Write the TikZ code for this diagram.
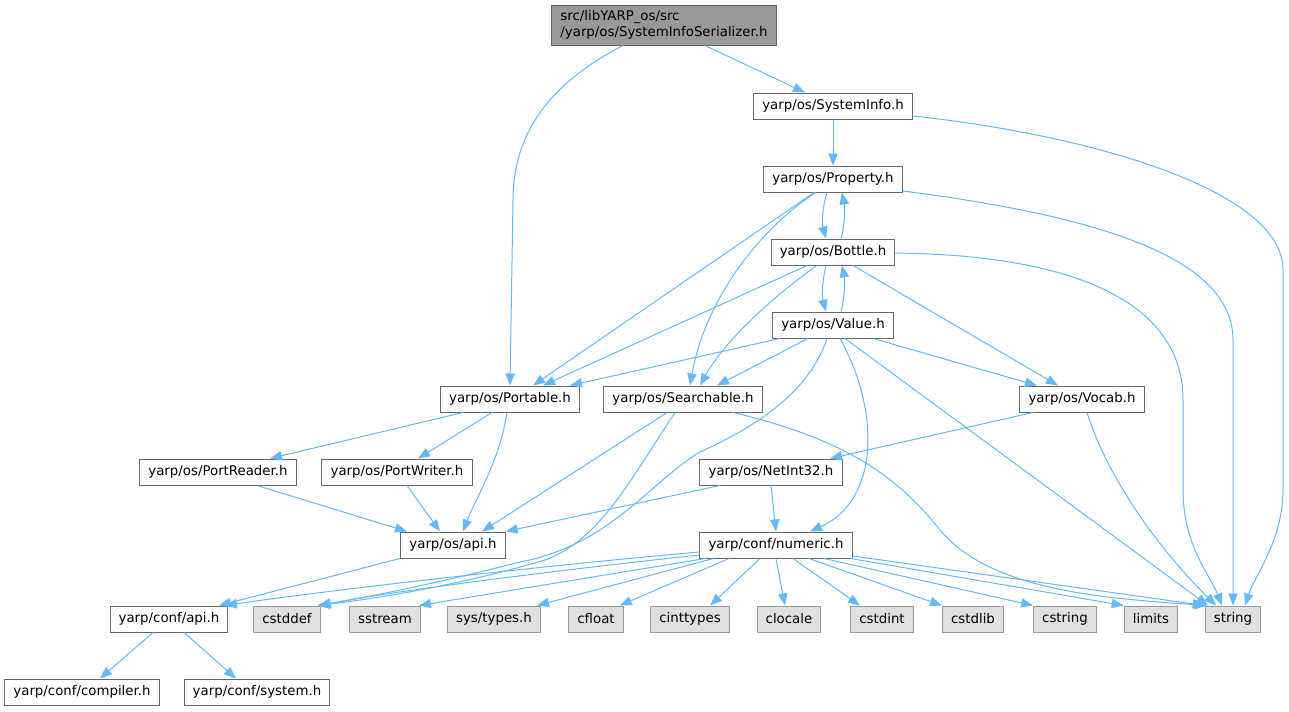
\documentclass[tikz,border=0pt]{standalone}
\usepackage{fontspec}
\setmainfont{DejaVu Sans}
\usetikzlibrary{arrows.meta}
\usetikzlibrary{calc}
\definecolor{edgeblue}{HTML}{63B8FF}
\definecolor{boxline}{HTML}{666666}
\definecolor{sysline}{HTML}{999999}
\definecolor{sysfill}{HTML}{E0E0E0}
\definecolor{rootfill}{HTML}{999999}
\tikzstyle{block} = [rectangle, draw=boxline, fill=white, line width=0.75pt, inner xsep=6.5pt, inner ysep=0pt, minimum height=19.5pt, font=\fontsize{10}{12}\selectfont]
\tikzstyle{sysblock} = [block, draw=sysline, fill=sysfill]
\tikzstyle{rootblock} = [block, fill=rootfill, align=left, minimum height=30pt]
\tikzstyle{arrow} = [-{Triangle[length=9pt,width=7pt]}, draw=edgeblue, line width=0.75pt]

\begin{document}
\begin{tikzpicture}[x=0.75pt,y=-0.75pt]

  %\draw[help lines] (0,0) grid (1289,711);
  \useasboundingbox (0,0) rectangle (1289,711);

  % Root header
  \node [rootblock] (ser) at (664,25) {src/libYARP\_os/src\\/yarp/os/SystemInfoSerializer.h};

  % yarp/os headers
  \node [block] (sysinfo) at (833,106) {yarp/os/SystemInfo.h};
  \node [block] (property) at (833,179) {yarp/os/Property.h};
  \node [block] (bottle) at (833,252) {yarp/os/Bottle.h};
  \node [block] (value) at (833,325) {yarp/os/Value.h};
  \node [block] (portable) at (510,399) {yarp/os/Portable.h};
  \node [block] (searchable) at (683,399) {yarp/os/Searchable.h};
  \node [block] (vocab) at (1082,399) {yarp/os/Vocab.h};
  \node [block] (portreader) at (218,472) {yarp/os/PortReader.h};
  \node [block] (portwriter) at (397,472) {yarp/os/PortWriter.h};
  \node [block] (netint) at (771,472) {yarp/os/NetInt32.h};
  \node [block] (osapi) at (453,545) {yarp/os/api.h};

  % yarp/conf headers
  \node [block] (numeric) at (776,545) {yarp/conf/numeric.h};
  \node [block] (confapi) at (169,619) {yarp/conf/api.h};
  \node [block] (compiler) at (82,692) {yarp/conf/compiler.h};
  \node [block] (system) at (257,692) {yarp/conf/system.h};

  % System headers
  \node [sysblock] (cstddef) at (287,619) {cstddef};
  \node [sysblock] (sstream) at (385,619) {sstream};
  \node [sysblock] (systypes) at (494,619) {sys/types.h};
  \node [sysblock] (cfloat) at (596,619) {cfloat};
  \node [sysblock] (cinttypes) at (690,619) {cinttypes};
  \node [sysblock] (clocale) at (789,619) {clocale};
  \node [sysblock] (cstdint) at (882,619) {cstdint};
  \node [sysblock] (cstdlib) at (973,619) {cstdlib};
  \node [sysblock] (cstring) at (1065,619) {cstring};
  \node [sysblock] (limits) at (1151,619) {limits};
  \node [sysblock] (string) at (1233,619) {string};


  % Root includes
  \draw [arrow] ($(ser.south)+(-41,0)$) .. controls (560,78) and (513,125) .. (513,200) -- (portable.north);
  \draw [arrow] ($(ser.south)+(41,0)$) -- ($(sysinfo.north)+(-28,0)$);

  % SystemInfo
  \draw [arrow] (sysinfo.south) -- (property.north);
  \draw [arrow] ($(sysinfo.east)+(0,10)$) .. controls (1090,135) and (1283,190) .. (1283,270) -- (1283,490) .. controls (1283,540) and (1255,575) .. ($(string.north)+(12,0)$);

  % Property
  \draw [arrow] ($(property.south)+(-6,0)$) .. controls (822,208) and (822,224) .. ($(bottle.north)+(-7,0)$);
  \draw [arrow] ($(property.south)+(-19,0)$) -- ($(portable.north)+(23,0)$);
  \draw [arrow] ($(property.south)+(-17,0)$) .. controls (760,228) and (705,300) .. ($(searchable.north)+(7,0)$);
  \draw [arrow] ($(property.east)+(0,12)$) .. controls (1090,215) and (1233,255) .. (1233,340) -- (string.north);

  % Bottle
  \draw [arrow] ($(bottle.north)+(8,0)$) .. controls (845,224) and (845,208) .. ($(property.south)+(9,0)$);
  \draw [arrow] ($(bottle.south)+(-7,0)$) .. controls (822,281) and (822,297) .. ($(value.north)+(-7,0)$);
  \draw [arrow] ($(bottle.south)+(-26,0)$) -- ($(portable.north)+(33,0)$);
  \draw [arrow] ($(bottle.south)+(-16,0)$) .. controls (775,295) and (725,340) .. ($(searchable.north)+(17,0)$);
  \draw [arrow] ($(bottle.south)+(20,0)$) -- ($(vocab.north)+(-24,0)$);
  \draw [arrow] ($(bottle.east)+(0,1)$) .. controls (1070,255) and (1183,300) .. (1183,400) -- (1183,490) .. controls (1183,545) and (1210,575) .. ($(string.north)+(-11,0)$);

  % Value
  \draw [arrow] ($(value.north)+(8,0)$) .. controls (845,297) and (845,281) .. ($(bottle.south)+(9,0)$);
  \draw [arrow] ($(value.south)+(-53,0)$) -- ($(portable.north)+(60,0)$);
  \draw [arrow] ($(value.south)+(-25,0)$) -- ($(searchable.north)+(34,0)$);
  \draw [arrow] ($(value.south)+(40,0)$) -- ($(vocab.north)+(-45,0)$);
  \draw [arrow] ($(value.south)+(-6,0)$) .. controls (810,390) and (760,425) .. (700,452) .. controls (650,482) and (610,545) .. (520,562) .. controls (450,580) and (380,595) .. ($(cstddef.north east)+(-3,0)$);
  \draw [arrow] ($(value.south)+(7,0)$) .. controls (880,410) and (880,500) .. ($(numeric.north)+(34,0)$);
  \draw [arrow] ($(value.south)+(12,0)$) -- ($(string.north)+(-25,0)$);

  % Portable
  \draw [arrow] ($(portable.south)+(-47,0)$) -- ($(portreader.north)+(52,0)$);
  \draw [arrow] ($(portable.south)+(-18,0)$) -- ($(portwriter.north)+(21,0)$);
  \draw [arrow] ($(portable.south)+(-3,0)$) .. controls (500,460) and (475,500) .. ($(osapi.north)+(10,0)$);

  % Searchable
  \draw [arrow] ($(searchable.south)+(-16,0)$) -- ($(osapi.north)+(29,0)$);
  \draw [arrow] ($(searchable.south)+(-8,0)$) .. controls (630,480) and (600,540) .. (545,560) .. controls (460,585) and (380,598) .. ($(cstddef.north east)+(-3,0)$);
  \draw [arrow] ($(searchable.south)+(50,0)$) .. controls (850,440) and (900,480) .. (940,530) .. controls (990,590) and (1100,598) .. ($(string.north west)+(2,0)$);

  % Vocab
  \draw [arrow] ($(vocab.south)+(-49,0)$) -- ($(netint.north)+(59,0)$);
  \draw [arrow] ($(vocab.south)+(5,0)$) .. controls (1105,470) and (1150,540) .. ($(string.north)+(-17,0)$);

  % NetInt32
  \draw [arrow] ($(netint.south)+(-51,0)$) -- (osapi.north east);
  \draw [arrow] (netint.south) -- (numeric.north);

  % PortReader, PortWriter
  \draw [arrow] ($(portreader.south)+(39,0)$) -- ($(osapi.north)+(-46,0)$);
  \draw [arrow] ($(portwriter.south)+(10,0)$) -- ($(osapi.north)+(-13,0)$);

  % os/api
  \draw [arrow] ($(osapi.south)+(-53,0)$) -- ($(confapi.north)+(50,0)$);

  % numeric
  \draw [arrow] ($(numeric.west)+(0,7)$) .. controls (550,565) and (330,590) .. ($(confapi.north)+(56,0)$);
  \draw [arrow] ($(numeric.west)+(0,10)$) .. controls (560,570) and (400,590) .. ($(cstddef.north east)+(-2,0)$);
  \draw [arrow] ($(numeric.south west)+(6,0)$) -- ($(sstream.north east)+(-2,0)$);
  \draw [arrow] ($(numeric.south west)+(14,0)$) -- ($(systypes.north east)+(-4,0)$);
  \draw [arrow] ($(numeric.south)+(-47,0)$) -- ($(cfloat.north east)+(-4,0)$);
  \draw [arrow] ($(numeric.south)+(-16,0)$) -- ($(cinttypes.north)+(20,0)$);
  \draw [arrow] (numeric.south) -- ($(clocale.north)+(-4,0)$);
  \draw [arrow] ($(numeric.south)+(17,0)$) -- ($(cstdint.north)+(-22,0)$);
  \draw [arrow] ($(numeric.south)+(33,0)$) -- (cstdlib.north west);
  \draw [arrow] ($(numeric.south)+(48,0)$) -- (cstring.north west);
  \draw [arrow] ($(numeric.south east)+(-2,0)$) -- (limits.north west);
  \draw [arrow] ($(numeric.east)+(0,11)$) -- (string.north west);

  % conf/api
  \draw [arrow] ($(confapi.south)+(-16,0)$) -- ($(compiler.north)+(18,0)$);
  \draw [arrow] ($(confapi.south)+(15,0)$) -- ($(system.north)+(-21,0)$);

\end{tikzpicture}
\end{document}
